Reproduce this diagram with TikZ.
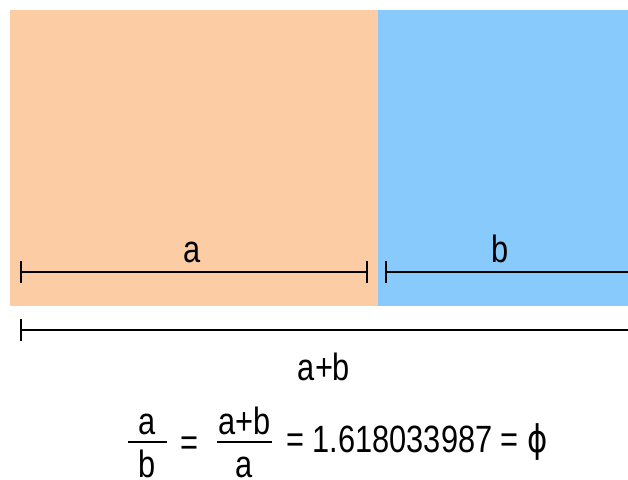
\documentclass[tikz,border=0pt]{standalone}
\usepackage{fontspec}
\setmainfont{Liberation Sans}
\newfontfamily\phifont{DejaVu Sans}
\usetikzlibrary{arrows.meta}
\definecolor{peach}{RGB}{252,204,164}
\definecolor{sky}{RGB}{136,202,252}
\newcommand{\hsq}[1]{\scalebox{0.81}[1]{#1}}
\begin{document}
\begin{tikzpicture}[x=1pt,y=-1pt,
  lbl/.style={inner sep=0pt,anchor=base,font=\fontsize{38}{44}\selectfont},
  dim/.style={line width=2.2pt,black},
  fracbar/.style={line width=2.2pt,black}]
\useasboundingbox (0,0) rectangle (628,479);
\fill[white] (0,0) rectangle (628,479);
% rectangles
\fill[peach] (10,10) rectangle (378,306);
\fill[sky] (378,10) rectangle (628,306);
% dimension lines
\coordinate (a1) at (20,272);
\coordinate (a2) at (368,272);
\coordinate (b1) at (385,272);
\coordinate (b2) at (628,272);
\coordinate (c1) at (20,330);
\coordinate (c2) at (628,330);
\draw[dim,{Bar[width=22pt]}-{Bar[width=22pt]}] (a1) -- (a2);
\draw[dim,{Bar[width=22pt]}-] (b1) -- (b2);
\draw[dim,{Bar[width=22pt]}-] (c1) -- (c2);
% labels
\node[lbl] (la) at (192,262) {\hsq{a}};
\node[lbl] (lb) at (500,262) {\hsq{b}};
\node[lbl] (lab) at (324,380) {\hsq{a+b}};
% equation
\coordinate (f1l) at (128,442);
\coordinate (f1r) at (167,442);
\draw[fracbar] (f1l) -- (f1r);
\node[lbl] (n1) at (147.5,434) {\hsq{a}};
\node[lbl] (d1) at (147.5,477) {\hsq{b}};
\node[lbl] (eq1) at (189,455) {\hsq{=}};
\coordinate (f2l) at (217,442);
\coordinate (f2r) at (272,442);
\draw[fracbar] (f2l) -- (f2r);
\node[lbl] (n2) at (244.5,434) {\hsq{a+b}};
\node[lbl] (d2) at (244.5,477) {\hsq{a}};
\node[lbl,anchor=base west] (rest) at (286,452) {\hsq{= 1.618033987 = {\phifont ϕ}}};
\end{tikzpicture}
\end{document}
